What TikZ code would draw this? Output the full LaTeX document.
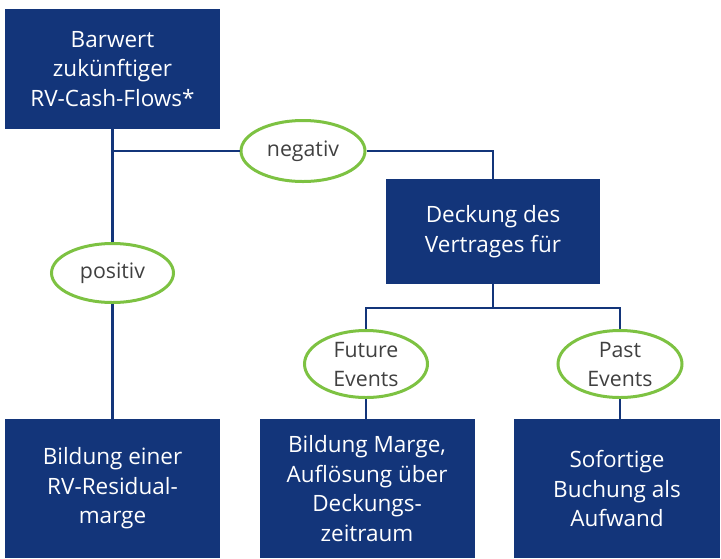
\documentclass[tikz,border=0pt]{standalone}
\usepackage{fontspec}
\setmainfont{Open Sans}
\usetikzlibrary{shapes.geometric}
\definecolor{boxblue}{HTML}{13357A}
\definecolor{ovalgreen}{HTML}{7DC242}
\definecolor{txtgrey}{HTML}{404040}
\begin{document}
\begin{tikzpicture}[x=1pt,y=-1pt,
  bluebox/.style={rectangle, fill=boxblue, text=white, align=center, inner sep=0pt,
    font=\fontsize{22.5}{29.5}\selectfont},
  oval/.style={ellipse, draw=ovalgreen, line width=3pt, fill=white, text=txtgrey, align=center, inner sep=0pt,
    font=\fontsize{21.3}{29}\selectfont},
  conn/.style={draw=boxblue, line width=2.6pt}]
\useasboundingbox (0,0) rectangle (721,558);
% boxes
\node[bluebox, minimum width=215pt, minimum height=120pt] (top) at (112.5,69) {Barwert\\zukünftiger\\RV-Cash-Flows*};
\node[bluebox, minimum width=214pt, minimum height=105pt] (deck) at (493,231.5) {Deckung des\\Vertrages für};
\node[bluebox, minimum width=215pt, minimum height=139pt] (b1) at (112.5,488.5) {Bildung einer\\RV-Residual-\\marge};
\node[bluebox, minimum width=215pt, minimum height=139pt] (b2) at (367,488.5) {Bildung Marge,\\Auflösung über\\Deckungs-\\zeitraum};
\node[bluebox, minimum width=206pt, minimum height=139pt] (b3) at (617,488.5) {Sofortige\\Buchung als\\Aufwand};
% ovals
\node[oval, minimum width=122pt, minimum height=59pt] (pos) at (112.5,273) {positiv};
\node[oval, minimum width=124pt, minimum height=61pt] (neg) at (303,151) {negativ};
\node[oval, minimum width=123pt, minimum height=67pt] (fut) at (366,364) {Future\\Events};
\node[oval, minimum width=124pt, minimum height=67pt] (past) at (620,364) {Past\\Events};
% connectors
\coordinate (j1) at (top.south |- neg);
\coordinate (j2) at (493,308);
\draw[conn] (top.south) -- (pos.north);
\draw[conn] (pos.south) -- (pos.south |- b1.north);
\draw[conn] (j1) -- (neg.west);
\draw[conn] (neg.east) -- (neg.east -| deck.north) -- (deck.north);
\draw[conn] (deck.south) -- (j2);
\draw[conn] (fut.north) -- (fut.north |- j2) -- (past.north |- j2) -- (past.north);
\draw[conn] (fut.south) -- (fut.south |- b2.north);
\draw[conn] (past.south) -- (past.south |- b3.north);
\end{tikzpicture}
\end{document}
